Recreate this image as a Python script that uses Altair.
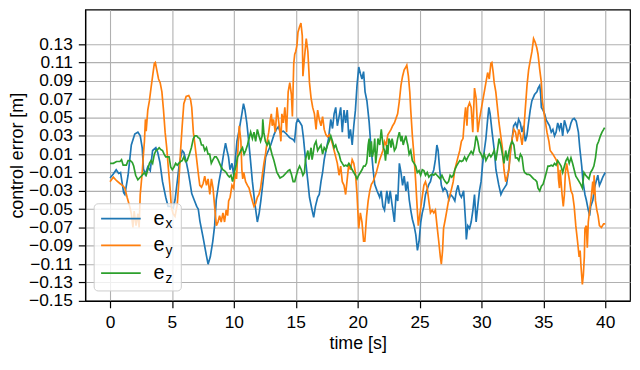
import altair as alt
import pandas as pd

# ---------------- data ----------------
t_x = [0.0, 0.25, 0.5, 0.7, 0.85, 1.1, 1.2, 1.46, 1.72, 2.0, 2.25, 2.44, 2.6, 2.7, 2.85, 3.05, 3.25, 3.44, 3.7, 3.85,
       4.03, 4.24, 4.5, 4.69, 4.9, 5.1, 5.25, 5.43, 5.6, 5.83, 5.96, 6.15, 6.3, 6.45, 6.6, 6.8, 7.0, 7.13, 7.26, 7.52,
       7.79, 7.92, 8.1, 8.3, 8.45, 8.58, 8.8, 8.98, 9.17, 9.33, 9.45, 9.57, 9.69, 9.85, 9.99, 10.12, 10.25, 10.44, 10.65, 10.78,
       10.9, 11.05, 11.18, 11.32, 11.5, 11.7, 11.9, 12.05, 12.18, 12.36, 12.57, 12.79, 12.98, 13.24, 13.43, 13.6, 13.75, 14.0, 14.25, 14.5,
       14.78, 14.9, 15.05, 15.18, 15.37, 15.5, 15.63, 15.79, 15.98, 16.11, 16.32, 16.45, 16.59, 16.77, 16.9, 17.04, 17.17, 17.3, 17.44, 17.65,
       17.83, 17.97, 18.1, 18.23, 18.36, 18.5, 18.63, 18.76, 18.9, 19.03, 19.16, 19.29, 19.42, 19.56, 19.69, 19.82, 19.95, 20.09, 20.22, 20.35,
       20.48, 20.6, 20.75, 20.93, 21.04, 21.25, 21.38, 21.57, 21.78, 21.9, 22.04, 22.17, 22.36, 22.5, 22.63, 22.8, 22.97, 23.1, 23.24, 23.37,
       23.5, 23.63, 23.76, 23.9, 24.03, 24.17, 24.29, 24.42, 24.56, 24.7, 24.83, 24.96, 25.1, 25.22, 25.35, 25.48, 25.75, 25.88, 26.0, 26.15,
       26.28, 26.4, 26.5, 26.63, 26.76, 26.9, 27.02, 27.2, 27.37, 27.5, 27.7, 27.85, 27.98, 28.11, 28.25, 28.38, 28.56, 28.72, 28.78, 28.9,
       29.04, 29.17, 29.31, 29.44, 29.57, 29.7, 29.84, 29.97, 30.1, 30.23, 30.36, 30.5, 30.6, 30.7, 30.86, 31.04, 31.17, 31.39, 31.57, 31.7,
       31.84, 32.03, 32.2, 32.35, 32.48, 32.6, 32.75, 32.88, 33.0, 33.14, 33.27, 33.4, 33.54, 33.67, 33.8, 33.94, 34.07, 34.29, 34.48, 34.58,
       34.71, 34.78, 34.84, 34.97, 35.1, 35.24, 35.37, 35.5, 35.64, 35.77, 35.9, 36.03, 36.16, 36.3, 36.43, 36.56, 36.7, 36.83, 36.96, 37.1,
       37.23, 37.36, 37.49, 37.65, 37.83, 37.94, 38.1, 38.2, 38.36, 38.47, 38.63, 38.74, 38.82, 39.0, 39.13, 39.26, 39.4, 39.53, 39.66, 39.8,
       40.0]
e_x = [-0.016, -0.012, -0.007, -0.011, -0.010, -0.032, -0.034, -0.013, 0.020, 0.032, 0.034, 0.030, 0.017, -0.006, -0.012, -0.004, -0.008, 0.014, 0.017, 0.012,
       0.001, -0.020, -0.037, -0.047, -0.047, -0.049, -0.040, -0.020, 0.000, 0.014, 0.012, 0.002, -0.008, -0.020, -0.033, -0.040, -0.047, -0.050, -0.063, -0.081,
       -0.101, -0.110, -0.102, -0.085, -0.068, -0.040, -0.020, -0.007, 0.010, 0.022, 0.014, 0.007, -0.007, 0.000, -0.013, 0.004, 0.024, 0.037, 0.054, 0.065,
       0.058, 0.044, 0.027, 0.007, -0.020, -0.044, -0.064, -0.054, -0.041, -0.020, 0.007, 0.014, 0.020, 0.031, 0.037, 0.040, 0.034, 0.035, 0.032, 0.028,
       0.026, 0.024, 0.044, 0.048, 0.044, 0.041, 0.027, 0.004, -0.020, -0.037, -0.051, -0.059, -0.047, -0.037, -0.034, -0.020, -0.010, 0.004, 0.014, 0.027,
       0.048, 0.038, 0.054, 0.061, 0.041, 0.051, 0.061, 0.034, 0.058, 0.044, 0.058, 0.027, 0.037, 0.020, 0.041, 0.058, 0.085, 0.105, 0.098, 0.092,
       0.100, 0.078, 0.068, 0.045, 0.024, -0.007, -0.023, -0.030, -0.037, -0.030, -0.047, -0.051, -0.030, -0.044, -0.030, -0.047, -0.064, -0.034, -0.041, 0.000,
       -0.010, -0.024, -0.014, -0.030, -0.020, -0.040, -0.051, -0.061, -0.068, -0.078, -0.095, -0.085, -0.064, -0.054, -0.047, -0.034, -0.023, -0.020, -0.013, -0.007,
       0.004, 0.020, 0.014, -0.007, -0.024, -0.030, -0.027, -0.030, -0.040, -0.034, -0.037, -0.041, -0.030, -0.024, -0.034, -0.037, -0.030, -0.064, -0.083, -0.068,
       -0.071, -0.064, -0.051, -0.034, -0.064, -0.047, -0.030, -0.020, 0.000, 0.014, 0.027, 0.048, 0.061, 0.054, 0.034, 0.014, -0.007, -0.023, -0.034, -0.030,
       -0.027, -0.023, -0.007, 0.014, 0.027, 0.041, 0.044, 0.039, 0.048, 0.044, 0.034, 0.041, 0.024, 0.030, 0.044, 0.058, 0.068, 0.075, 0.078, 0.082,
       0.085, 0.076, 0.061, 0.058, 0.054, 0.047, 0.044, 0.041, 0.034, 0.037, 0.030, 0.034, 0.044, 0.037, 0.044, 0.030, 0.047, 0.041, 0.034, 0.037,
       0.044, 0.048, 0.049, 0.046, 0.034, 0.017, -0.003, -0.020, -0.034, -0.040, -0.051, -0.057, -0.047, -0.040, -0.027, -0.020, -0.013, -0.024, -0.020, -0.015,
       -0.010]

t_y = [0.0, 0.27, 0.53, 0.8, 1.0, 1.2, 1.38, 1.59, 1.72, 1.85, 1.95, 2.1, 2.25, 2.35, 2.44, 2.6, 2.7, 2.78, 2.86, 2.92,
       3.05, 3.18, 3.31, 3.44, 3.58, 3.66, 3.76, 3.92, 4.05, 4.19, 4.32, 4.45, 4.58, 4.72, 4.85, 4.95, 5.09, 5.25, 5.43, 5.56,
       5.7, 5.83, 5.96, 6.15, 6.36, 6.5, 6.6, 6.73, 6.86, 7.0, 7.12, 7.25, 7.39, 7.52, 7.65, 7.79, 7.92, 8.06, 8.19, 8.32,
       8.45, 8.59, 8.72, 8.85, 8.98, 9.12, 9.25, 9.38, 9.5, 9.58, 9.7, 9.85, 9.98, 10.12, 10.22, 10.3, 10.38, 10.44, 10.57, 10.65,
       10.72, 10.8, 10.95, 11.1, 11.23, 11.36, 11.5, 11.63, 11.76, 11.9, 12.03, 12.16, 12.29, 12.43, 12.56, 12.69, 12.82, 12.95, 13.03, 13.1,
       13.2, 13.35, 13.49, 13.6, 13.73, 13.8, 13.88, 14.0, 14.12, 14.26, 14.39, 14.52, 14.65, 14.73, 14.84, 14.92, 15.0, 15.1, 15.18, 15.31,
       15.42, 15.53, 15.58, 15.71, 15.85, 15.98, 16.11, 16.24, 16.37, 16.51, 16.64, 16.77, 16.9, 17.04, 17.17, 17.3, 17.44, 17.57, 17.7, 17.83,
       17.97, 18.1, 18.23, 18.36, 18.5, 18.63, 18.76, 18.9, 19.03, 19.16, 19.29, 19.42, 19.56, 19.69, 19.82, 19.95, 20.09, 20.22, 20.35, 20.48,
       20.58, 20.72, 20.85, 20.98, 21.11, 21.25, 21.51, 21.78, 22.04, 22.17, 22.3, 22.44, 22.57, 22.7, 22.83, 22.97, 23.1, 23.23, 23.37, 23.5,
       23.63, 23.76, 23.9, 23.97, 24.1, 24.21, 24.29, 24.42, 24.56, 24.69, 24.82, 24.9, 25.0, 25.17, 25.35, 25.48, 25.62, 25.75, 25.88, 26.02,
       26.15, 26.28, 26.41, 26.55, 26.68, 26.76, 26.86, 26.94, 27.08, 27.21, 27.34, 27.47, 27.6, 27.72, 27.85, 27.98, 28.11, 28.25, 28.38, 28.51,
       28.64, 28.72, 28.83, 28.9, 29.04, 29.17, 29.3, 29.44, 29.57, 29.7, 29.84, 29.97, 30.1, 30.23, 30.36, 30.5, 30.63, 30.76, 30.84, 30.95,
       31.03, 31.16, 31.29, 31.42, 31.56, 31.69, 31.82, 31.96, 32.09, 32.22, 32.35, 32.48, 32.62, 32.75, 32.88, 33.02, 33.15, 33.28, 33.41, 33.55,
       33.68, 33.81, 33.94, 34.08, 34.21, 34.34, 34.47, 34.57, 34.71, 34.84, 34.92, 35.02, 35.18, 35.29, 35.45, 35.55, 35.77, 35.9, 36.03, 36.16,
       36.22, 36.3, 36.36, 36.43, 36.51, 36.61, 36.7, 36.78, 36.88, 36.96, 37.09, 37.23, 37.36, 37.49, 37.62, 37.76, 37.89, 37.97, 38.04, 38.15,
       38.23, 38.31, 38.36, 38.47, 38.55, 38.63, 38.74, 38.87, 38.99, 39.07, 39.1, 39.21, 39.32, 39.42, 39.53, 39.69, 39.87, 40.0]
e_y = [-0.020, -0.015, -0.019, -0.022, -0.024, -0.027, -0.037, -0.047, -0.055, -0.070, -0.052, -0.068, -0.055, -0.070, -0.034, -0.010, 0.010, 0.024, 0.048, 0.035,
       0.058, 0.068, 0.082, 0.095, 0.109, 0.110, 0.103, 0.092, 0.088, 0.078, 0.058, 0.034, 0.017, -0.007, -0.027, -0.047, -0.055, -0.058, -0.045, -0.020,
       0.014, 0.041, 0.065, 0.073, 0.074, 0.070, 0.061, 0.034, 0.020, 0.004, -0.010, -0.024, -0.026, -0.022, -0.014, -0.024, -0.017, -0.034, -0.017, -0.027,
       -0.047, -0.068, -0.064, -0.057, -0.064, -0.054, -0.064, -0.051, -0.057, -0.041, -0.037, -0.024, -0.027, -0.010, -0.017, 0.007, 0.027, 0.041, 0.024, -0.007,
       -0.017, -0.010, -0.020, -0.024, -0.027, -0.034, -0.041, -0.047, -0.044, -0.037, -0.034, -0.027, -0.014, 0.000, 0.010, 0.024, 0.034, 0.048, 0.054, 0.041,
       0.048, 0.034, 0.061, 0.048, 0.034, 0.024, 0.054, 0.044, 0.061, 0.034, 0.078, 0.088, 0.075, 0.051, 0.109, 0.119, 0.122, 0.129, 0.143, 0.149,
       0.153, 0.139, 0.095, 0.116, 0.136, 0.122, 0.088, 0.071, 0.061, 0.054, 0.037, 0.058, 0.048, 0.041, 0.051, 0.037, 0.031, 0.029, 0.031, 0.027,
       0.021, 0.014, 0.007, 0.000, -0.013, -0.003, -0.020, -0.024, -0.034, -0.017, 0.000, -0.007, 0.004, 0.000, -0.010, -0.034, -0.071, -0.054, -0.064, -0.085,
       -0.085, -0.058, -0.041, -0.030, -0.023, -0.020, -0.010, 0.004, 0.014, 0.024, 0.020, 0.031, 0.034, 0.037, 0.041, 0.044, 0.049, 0.054, 0.068, 0.085,
       0.095, 0.102, 0.105, 0.107, 0.095, 0.078, 0.058, 0.030, 0.007, -0.020, -0.051, -0.068, -0.058, -0.041, -0.024, -0.020, -0.027, -0.041, -0.054, -0.051,
       -0.054, -0.051, -0.068, -0.085, -0.102, -0.110, -0.095, -0.071, -0.061, -0.051, -0.041, -0.034, -0.027, -0.020, -0.007, 0.000, 0.007, 0.014, 0.024, 0.027,
       0.051, 0.061, 0.041, 0.061, 0.066, 0.061, 0.034, 0.082, 0.071, 0.034, 0.048, 0.058, 0.068, 0.078, 0.088, 0.099, 0.092, 0.109, 0.110, 0.099,
       0.088, 0.078, 0.061, 0.044, 0.030, 0.017, -0.007, -0.020, -0.014, -0.007, 0.014, 0.027, 0.037, 0.034, 0.024, 0.037, 0.031, 0.020, 0.034, 0.061,
       0.085, 0.102, 0.112, 0.122, 0.136, 0.132, 0.126, 0.119, 0.102, 0.088, 0.068, 0.058, 0.044, 0.034, 0.024, 0.014, 0.010, 0.007, 0.004, 0.000,
       -0.017, -0.027, -0.007, -0.020, -0.034, -0.047, -0.034, -0.010, 0.000, -0.007, -0.017, -0.030, -0.034, -0.047, -0.068, -0.085, -0.102, -0.095, -0.112, -0.132,
       -0.122, -0.102, -0.071, -0.068, -0.092, -0.064, -0.051, -0.037, -0.020, -0.034, -0.013, -0.041, -0.051, -0.057, -0.068, -0.070, -0.066, -0.066]

t_z = [0.0, 0.27, 0.53, 0.8, 0.93, 1.06, 1.32, 1.46, 1.64, 1.8, 1.91, 2.07, 2.25, 2.38, 2.6, 2.78, 2.92, 3.05, 3.18, 3.31,
       3.44, 3.58, 3.71, 3.84, 3.97, 4.1, 4.24, 4.37, 4.5, 4.64, 4.77, 4.9, 5.03, 5.17, 5.3, 5.43, 5.56, 5.7, 5.83, 5.96,
       6.1, 6.23, 6.41, 6.57, 6.73, 6.86, 7.0, 7.12, 7.25, 7.39, 7.52, 7.65, 7.79, 7.92, 8.05, 8.18, 8.32, 8.45, 8.58, 8.72,
       8.85, 8.98, 9.11, 9.24, 9.38, 9.51, 9.64, 9.77, 9.9, 10.04, 10.17, 10.3, 10.44, 10.57, 10.7, 10.83, 10.96, 11.1, 11.23, 11.36,
       11.5, 11.63, 11.76, 11.9, 12.03, 12.16, 12.29, 12.34, 12.42, 12.55, 12.69, 12.82, 12.95, 13.08, 13.22, 13.35, 13.48, 13.61, 13.73, 13.99,
       14.26, 14.39, 14.52, 14.65, 14.79, 14.92, 15.05, 15.18, 15.31, 15.45, 15.58, 15.7, 15.79, 15.9, 15.98, 16.06, 16.15, 16.24, 16.32, 16.4,
       16.51, 16.64, 16.77, 16.9, 17.04, 17.17, 17.3, 17.44, 17.57, 17.7, 17.83, 17.97, 18.1, 18.23, 18.36, 18.5, 18.63, 18.76, 18.9, 19.03,
       19.16, 19.29, 19.42, 19.56, 19.69, 19.82, 19.95, 20.09, 20.22, 20.35, 20.48, 20.6, 20.72, 20.77, 20.85, 20.93, 20.98, 21.11, 21.19, 21.3,
       21.38, 21.46, 21.57, 21.64, 21.78, 21.91, 21.99, 22.09, 22.17, 22.25, 22.36, 22.44, 22.52, 22.62, 22.7, 22.78, 22.89, 22.97, 23.1, 23.23,
       23.37, 23.5, 23.58, 23.68, 23.76, 23.9, 23.98, 24.05, 24.16, 24.29, 24.42, 24.56, 24.69, 24.82, 24.96, 25.09, 25.22, 25.35, 25.48, 25.62,
       25.75, 25.88, 26.02, 26.15, 26.28, 26.41, 26.55, 26.68, 26.81, 26.94, 27.08, 27.21, 27.34, 27.47, 27.6, 27.72, 27.85, 27.98, 28.11, 28.25,
       28.38, 28.51, 28.64, 28.78, 28.91, 29.04, 29.17, 29.31, 29.44, 29.57, 29.7, 29.84, 29.97, 30.1, 30.23, 30.36, 30.5, 30.63, 30.76, 30.9,
       31.03, 31.16, 31.29, 31.42, 31.56, 31.69, 31.82, 31.96, 32.09, 32.22, 32.35, 32.48, 32.62, 32.75, 32.88, 33.02, 33.15, 33.28, 33.41, 33.49,
       33.68, 33.81, 33.94, 34.08, 34.21, 34.34, 34.47, 34.57, 34.71, 34.84, 34.97, 35.1, 35.24, 35.37, 35.5, 35.64, 35.77, 35.9, 36.03, 36.16,
       36.3, 36.43, 36.56, 36.7, 36.83, 36.96, 37.09, 37.23, 37.36, 37.49, 37.62, 37.76, 37.89, 38.02, 38.15, 38.28, 38.42, 38.55, 38.68, 38.81,
       38.95, 39.08, 39.21, 39.34, 39.47, 39.61, 39.74, 39.87, 39.95]
e_z = [0.000, 0.000, 0.002, 0.002, 0.004, -0.002, -0.002, 0.003, 0.003, 0.001, -0.003, -0.013, -0.018, -0.016, -0.013, -0.010, -0.013, -0.007, 0.000, 0.003,
       0.000, 0.010, 0.014, 0.015, 0.017, 0.015, 0.014, 0.010, 0.007, 0.007, 0.007, -0.004, -0.007, -0.004, 0.000, -0.002, 0.000, 0.002, 0.003, 0.007,
       0.002, 0.003, 0.010, 0.017, 0.027, 0.030, 0.030, 0.028, 0.027, 0.020, 0.020, 0.014, 0.017, 0.010, 0.010, 0.000, 0.004, 0.007, 0.007, 0.004,
       0.000, -0.004, -0.007, -0.008, -0.010, -0.013, -0.015, -0.013, -0.020, -0.010, -0.003, 0.007, 0.010, 0.014, 0.017, 0.010, 0.014, 0.020, 0.027, 0.034,
       0.027, 0.034, 0.024, 0.037, 0.030, 0.024, 0.030, 0.048, 0.034, 0.024, 0.020, 0.024, 0.017, 0.010, 0.004, -0.003, -0.010, -0.013, -0.016, -0.014,
       -0.010, -0.008, -0.007, -0.012, -0.020, -0.020, -0.013, -0.007, -0.003, -0.007, -0.013, -0.010, 0.004, 0.010, 0.014, 0.004, 0.010, 0.017, 0.004, 0.010,
       0.020, 0.024, 0.014, 0.017, 0.020, 0.010, 0.017, 0.014, 0.020, 0.024, 0.030, 0.024, 0.017, 0.020, 0.014, 0.010, 0.003, 0.000, -0.003, -0.002,
       -0.003, 0.000, -0.003, -0.007, -0.010, -0.013, -0.017, -0.013, -0.010, -0.007, -0.003, -0.003, 0.000, 0.006, 0.020, 0.027, 0.007, 0.024, 0.007, 0.014,
       0.027, 0.000, 0.014, 0.027, 0.020, 0.037, 0.027, 0.017, 0.014, 0.003, 0.020, 0.010, 0.027, 0.024, 0.017, 0.027, 0.020, 0.014, 0.017, 0.027,
       0.034, 0.024, 0.030, 0.020, 0.024, 0.030, 0.024, 0.020, 0.010, 0.014, 0.003, 0.000, -0.003, -0.010, -0.008, -0.013, -0.007, -0.008, -0.013, -0.010,
       -0.015, -0.013, -0.012, -0.013, -0.011, -0.013, -0.015, -0.017, -0.013, -0.017, -0.020, -0.022, -0.020, -0.013, -0.015, -0.013, -0.007, -0.003, 0.000, 0.003,
       0.002, 0.003, 0.007, 0.003, 0.007, 0.010, 0.013, 0.010, 0.017, 0.030, 0.024, 0.013, 0.010, 0.006, 0.010, 0.003, 0.007, 0.010, 0.007, 0.010,
       0.014, 0.003, 0.014, 0.027, 0.020, 0.010, 0.000, 0.014, 0.003, 0.013, 0.020, 0.024, 0.020, 0.006, 0.006, 0.003, 0.010, 0.007, -0.007, -0.010,
       -0.012, -0.012, -0.013, -0.015, -0.017, -0.018, -0.020, -0.027, -0.030, -0.025, -0.023, -0.017, -0.010, -0.003, -0.003, -0.002, -0.003, 0.000, -0.002, 0.003,
       0.000, -0.003, -0.010, -0.003, 0.003, 0.006, 0.000, 0.006, 0.000, -0.007, -0.014, -0.017, -0.020, -0.023, -0.027, -0.010, -0.013, -0.015, -0.017, -0.010,
       -0.007, -0.003, 0.006, 0.020, 0.024, 0.030, 0.034, 0.037, 0.039]

series_names = ["e_x", "e_y", "e_z"]
series_sub = ["x", "y", "z"]
series_colors = ["#1f77b4", "#ff7f0e", "#2ca02c"]
x_ticks = [0, 5, 10, 15, 20, 25, 30, 35, 40]
y_ticks = [-0.15, -0.13, -0.11, -0.09, -0.07, -0.05, -0.03, -0.01, 0.01, 0.03, 0.05, 0.07, 0.09, 0.11, 0.13]

FONT = "Liberation Sans"
W, H = 550, 294

x_scale = alt.Scale(domain=[-2, 42], nice=False, zero=False)
y_scale = alt.Scale(domain=[-0.15, 0.1676], nice=False, zero=False)

x_axis = alt.Axis(values=x_ticks, format="d", title="time [s]", labelPadding=6, titlePadding=4)
y_axis = alt.Axis(values=y_ticks, format=".2f", title="control error [m]", labelPadding=6, titlePadding=2)

layers = []
for i, (ts, vs) in enumerate([(t_x, e_x), (t_y, e_y), (t_z, e_z)]):
    df = pd.DataFrame({"t": ts, "v": vs, "series": series_names[i]})
    layers.append(
        alt.Chart(df).mark_line(color=series_colors[i], strokeWidth=1.7, clip=True)
        .encode(x=alt.X("t:Q", scale=x_scale, axis=x_axis),
                y=alt.Y("v:Q", scale=y_scale, axis=y_axis),
                order="t:Q")
    )

# legend (matplotlib-like, with subscripts)
one = pd.DataFrame({"k": [0]})
layers.append(
    alt.Chart(one).mark_rect(fill="white", fillOpacity=0.8, stroke="#cccccc", strokeWidth=1, cornerRadius=4)
    .encode(x=alt.value(9), x2=alt.value(97), y=alt.value(196), y2=alt.value(284))
)
leg_y = [211, 238, 266]
for i in range(3):
    layers.append(
        alt.Chart(one).mark_rule(color=series_colors[i], strokeWidth=1.8)
        .encode(x=alt.value(16), x2=alt.value(56), y=alt.value(leg_y[i]))
    )
    layers.append(
        alt.Chart(pd.DataFrame({"s": ["e"]})).mark_text(align="left", baseline="alphabetic", font=FONT, fontSize=20, color="black")
        .encode(x=alt.value(69), y=alt.value(leg_y[i] + 6), text="s:N")
    )
    layers.append(
        alt.Chart(pd.DataFrame({"s": [series_sub[i]]})).mark_text(align="left", baseline="alphabetic", font=FONT, fontSize=14, color="black")
        .encode(x=alt.value(81), y=alt.value(leg_y[i] + 9.5), text="s:N")
    )

chart = (
    alt.layer(*layers)
    .properties(width=W, height=H, autosize=alt.AutoSizeParams(type="none"),
                padding={"left": 78, "top": 0, "right": 2, "bottom": 54})
    .configure_view(stroke="black", strokeWidth=1.2)
    .configure_axis(
        domainColor="black", domainWidth=1.2, tickColor="black", tickWidth=1.2, tickSize=7,
        grid=True, gridColor="#b0b0b0", gridWidth=1.1,
        labelFont=FONT, labelFontSize=17.5, labelColor="black",
        titleFont=FONT, titleFontSize=18, titleFontWeight="normal", titleColor="black",
    )
)

chart.save("out.html", embed_options={"renderer": "svg", "actions": False})
